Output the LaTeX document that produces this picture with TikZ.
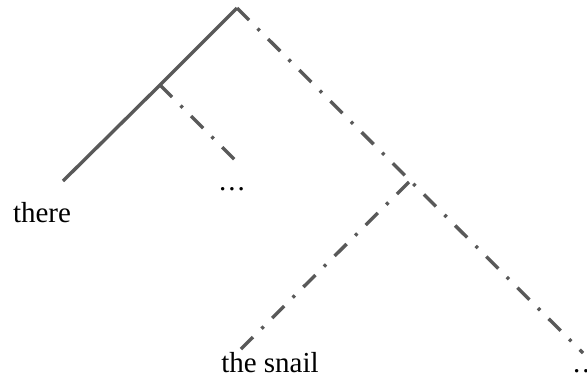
\documentclass[tikz,border=0pt]{standalone}
\usepackage{fontspec}
\setmainfont{Liberation Serif}
\begin{document}
\begin{tikzpicture}[x=1pt,y=-1pt,
  edge/.style={draw=black!65,line width=3.4pt},
  dd/.style={edge,dash pattern=on 17pt off 12pt on 3pt off 12pt},
  lbl/.style={anchor=base,inner sep=0pt,font=\fontsize{29}{34}\selectfont}]
\useasboundingbox (0,0) rectangle (587,389);
\coordinate (R) at (237,8);
\coordinate (A) at (160,85);
\coordinate (T) at (63,181);
\coordinate (D1) at (236,161);
\coordinate (B) at (409,182);
\coordinate (S) at (237,353);
\coordinate (E) at (583,353);
\draw[edge] (R) -- (A) -- (T);
\draw[dd] (A) -- (D1);
\draw[dd] (R) -- (E);
\draw[dd] (B) -- (S);
\node[lbl] (there) at (42,222) {there};
\node[lbl] (dots1) at (232,190) {.\kern2pt.\kern2pt.};
\node[lbl] (snail) at (270,372) {the snail};
\node[lbl,anchor=base west] (dots2) at (573,372) {.\kern2pt.\kern2pt.};
\end{tikzpicture}
\end{document}
